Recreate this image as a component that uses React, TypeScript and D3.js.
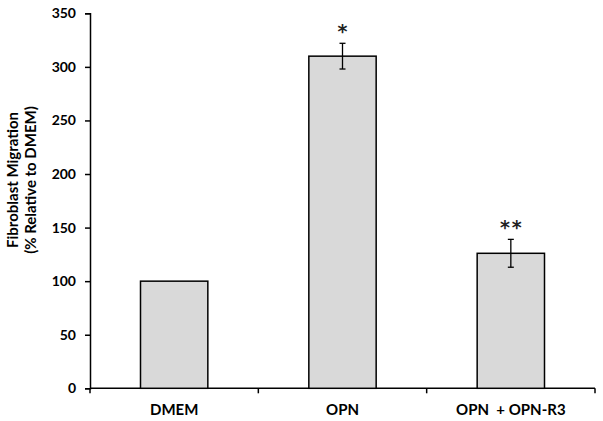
import React, { useEffect, useRef } from "react";
import * as d3 from "d3";

const categories = ["DMEM", "OPN", "OPN  + OPN-R3"];
const values = [100, 310, 126];
const errors = [0, 12, 13];
const marks = ["", "*", "**"];
const yTicks = [0, 50, 100, 150, 200, 250, 300, 350];

const App = () => {
  const svgRef = useRef<SVGSVGElement>(null);

  useEffect(() => {
    const width = 603;
    const height = 421;
    const svg = d3.select(svgRef.current).attr("width", width).attr("height", height);
    svg.selectAll("*").remove();

    const font = "Lato, Open Sans, sans-serif";
    const left = 90;
    const right = 595;
    const top = 13.3;
    const bottom = 388.3;

    const x = d3.scaleBand().domain(categories).range([left, right]).paddingInner(0.6).paddingOuter(0.3);
    const y = d3.scaleLinear().domain([0, 350]).range([bottom, top]);

    // y axis
    const yAxis = svg
      .append("g")
      .attr("transform", `translate(${left},0)`)
      .call(d3.axisLeft(y).tickValues(yTicks).tickSize(5).tickPadding(9));
    yAxis.select(".domain").attr("stroke", "#000").attr("stroke-width", 1.5);
    yAxis.selectAll(".tick line").attr("stroke", "#000").attr("stroke-width", 1.5);
    yAxis
      .selectAll(".tick text")
      .attr("font-family", font)
      .attr("font-weight", "bold")
      .attr("font-size", 14)
      .attr("fill", "#000");

    // x axis with ticks between categories
    const step = (right - left) / categories.length;
    const xg = svg.append("g");
    xg.append("line")
      .attr("x1", left)
      .attr("x2", right)
      .attr("y1", bottom)
      .attr("y2", bottom)
      .attr("stroke", "#000")
      .attr("stroke-width", 1.5);
    d3.range(categories.length + 1).forEach((i) => {
      xg.append("line")
        .attr("x1", left + i * step)
        .attr("x2", left + i * step)
        .attr("y1", bottom)
        .attr("y2", bottom + 5)
        .attr("stroke", "#000")
        .attr("stroke-width", 1.5);
    });
    xg.selectAll("text.cat")
      .data(categories)
      .enter()
      .append("text")
      .attr("class", "cat")
      .attr("x", (d) => (x(d) as number) + x.bandwidth() / 2)
      .attr("y", 415)
      .attr("text-anchor", "middle")
      .attr("font-family", font)
      .attr("font-weight", "bold")
      .attr("font-size", 15)
      .style("white-space", "pre")
      .text((d) => d);

    // bars
    svg
      .selectAll("rect.bar")
      .data(values)
      .enter()
      .append("rect")
      .attr("class", "bar")
      .attr("x", (d, i) => x(categories[i]) as number)
      .attr("width", x.bandwidth())
      .attr("y", (d) => y(d))
      .attr("height", (d) => bottom - y(d))
      .attr("fill", "#d9d9d9")
      .attr("stroke", "#000")
      .attr("stroke-width", 1.5);

    // error bars + significance marks
    values.forEach((v, i) => {
      if (!errors[i]) return;
      const cx = (x(categories[i]) as number) + x.bandwidth() / 2;
      const g = svg.append("g").attr("stroke", "#000").attr("stroke-width", 1.3);
      g.append("line").attr("x1", cx).attr("x2", cx).attr("y1", y(v + errors[i])).attr("y2", y(v - errors[i]));
      [v + errors[i], v - errors[i]].forEach((e) => {
        g.append("line").attr("x1", cx - 3).attr("x2", cx + 3).attr("y1", y(e)).attr("y2", y(e));
      });
      svg
        .append("text")
        .attr("x", cx + 1)
        .attr("y", y(v + errors[i]) - 5)
        .attr("text-anchor", "middle")
        .attr("font-family", "DejaVu Sans, sans-serif")
        .attr("font-weight", "bold")
        .attr("font-size", 19)
        .attr("fill", "#222")
        .attr("letter-spacing", 2)
        .text(marks[i]);
    });

    // y title
    const t = svg
      .append("text")
      .attr("transform", `translate(18,180) rotate(-90)`)
      .attr("text-anchor", "middle")
      .attr("font-family", font)
      .attr("font-weight", "bold")
      .attr("font-size", 15);
    t.append("tspan").attr("x", 0).attr("dy", 0).text("Fibroblast Migration");
    t.append("tspan").attr("x", 0).attr("dy", 18).text("(% Relative to DMEM)");
  }, []);

  return (
    <svg ref={svgRef} style={{ position: "absolute", left: 0, top: 0, background: "#fff" }}></svg>
  );
};

export default App;
